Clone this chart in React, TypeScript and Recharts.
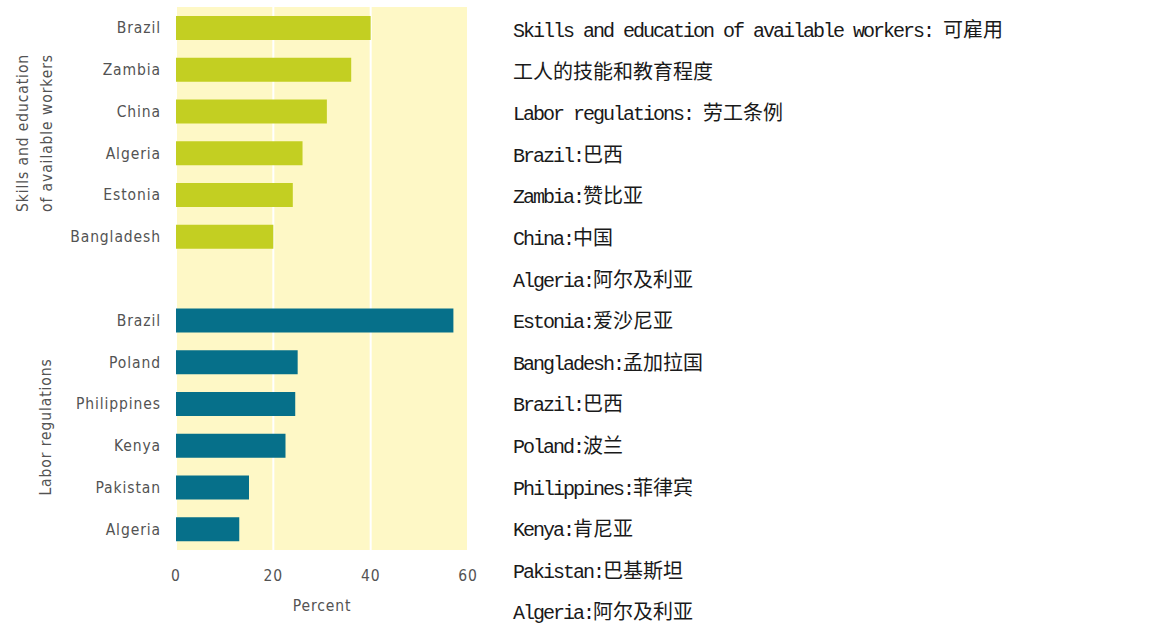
import React from 'react';
import { BarChart, Bar, XAxis, YAxis, CartesianGrid, Cell } from 'recharts';

const skillCountries = ['Brazil', 'Zambia', 'China', 'Algeria', 'Estonia', 'Bangladesh'];
const skillValues = [40, 36, 31, 26, 24, 20];
const skillNamesZh = ['巴西', '赞比亚', '中国', '阿尔及利亚', '爱沙尼亚', '孟加拉国'];

const laborCountries = ['Brazil', 'Poland', 'Philippines', 'Kenya', 'Pakistan', 'Algeria'];
const laborValues = [57, 25, 24.5, 22.5, 15, 13];
const laborNamesZh = ['巴西', '波兰', '菲律宾', '肯尼亚', '巴基斯坦', '阿尔及利亚'];

const xTicks = [0, 20, 40, 60];

const SKILL_COLOR = '#c3cf22';
const LABOR_COLOR = '#06708a';
const AXIS_FONT = '"DejaVu Sans Condensed", "Liberation Sans Narrow", sans-serif';

type Row = { key: string; label: string; value: number | null; color: string };

const rows: Row[] = [
  ...skillCountries.map((c, i) => ({ key: 's' + i, label: c, value: skillValues[i], color: SKILL_COLOR })),
  { key: 'gap', label: '', value: null, color: 'none' },
  ...laborCountries.map((c, i) => ({ key: 'l' + i, label: c, value: laborValues[i], color: LABOR_COLOR })),
];
const labelOf: Record<string, string> = Object.fromEntries(rows.map(r => [r.key, r.label]));

const notes: [string, string][] = [
  ['Skills and education of available workers: ', '可雇用'],
  ['', '工人的技能和教育程度'],
  ['Labor regulations: ', '劳工条例'],
  ...skillCountries.map((c, i) => [c + ':', skillNamesZh[i]] as [string, string]),
  ...laborCountries.map((c, i) => [c + ':', laborNamesZh[i]] as [string, string]),
];

export default function App() {
  const tickStyle = { fill: '#535353', fontSize: 15.5, fontFamily: AXIS_FONT, letterSpacing: 0.9 };
  return (
    <div style={{ position: 'absolute', left: 0, top: 0, width: 1167, height: 625, background: '#fff' }}>
      <BarChart
        width={480}
        height={625}
        data={rows}
        layout="vertical"
        margin={{ top: 7, right: 12, bottom: 15, left: 76 }}
        barSize={24}
      >
        <CartesianGrid horizontal={false} fill="#fef8c6" stroke="#ffffff" strokeWidth={2} />
        <XAxis
          type="number"
          domain={[0, 60]}
          ticks={xTicks}
          axisLine={false}
          tickLine={false}
          tickMargin={14}
          height={60}
          tick={tickStyle}
          label={{ value: 'Percent', position: 'insideBottom', offset: -1, fill: '#535353', fontSize: 15.5, fontFamily: AXIS_FONT, letterSpacing: 0.9 }}
        />
        <YAxis
          type="category"
          dataKey="key"
          width={100}
          axisLine={false}
          tickLine={false}
          tickMargin={9}
          interval={0}
          tick={tickStyle}
          tickFormatter={(k: string) => labelOf[k] ?? ''}
        />
        <Bar dataKey="value" isAnimationActive={false}>
          {rows.map(r => (
            <Cell key={r.key} fill={r.color} />
          ))}
        </Bar>
      </BarChart>
      <svg width={80} height={625} style={{ position: 'absolute', left: 0, top: 0 }}>
        <g fill="#535353" fontSize={15.5} fontFamily={AXIS_FONT} letterSpacing={0.9} textAnchor="middle">
          <text transform="translate(28,133) rotate(-90)">Skills and education</text>
          <text transform="translate(52,133) rotate(-90)">of available workers</text>
          <text transform="translate(51,427) rotate(-90)">Labor regulations</text>
        </g>
      </svg>
      <div style={{ position: 'absolute', left: 513, top: 8, color: '#1a1a1a' }}>
        {notes.map(([en, zh], i) => (
          <div key={i} style={{ height: 41.6, lineHeight: '41.6px', whiteSpace: 'nowrap' }}>
            <span style={{ fontFamily: '"Liberation Mono", monospace', fontSize: 20, letterSpacing: -2 }}>{en}</span>
            <span style={{ fontFamily: '"Noto Sans CJK SC", sans-serif', fontSize: 20 }}>{zh}</span>
          </div>
        ))}
      </div>
    </div>
  );
}
